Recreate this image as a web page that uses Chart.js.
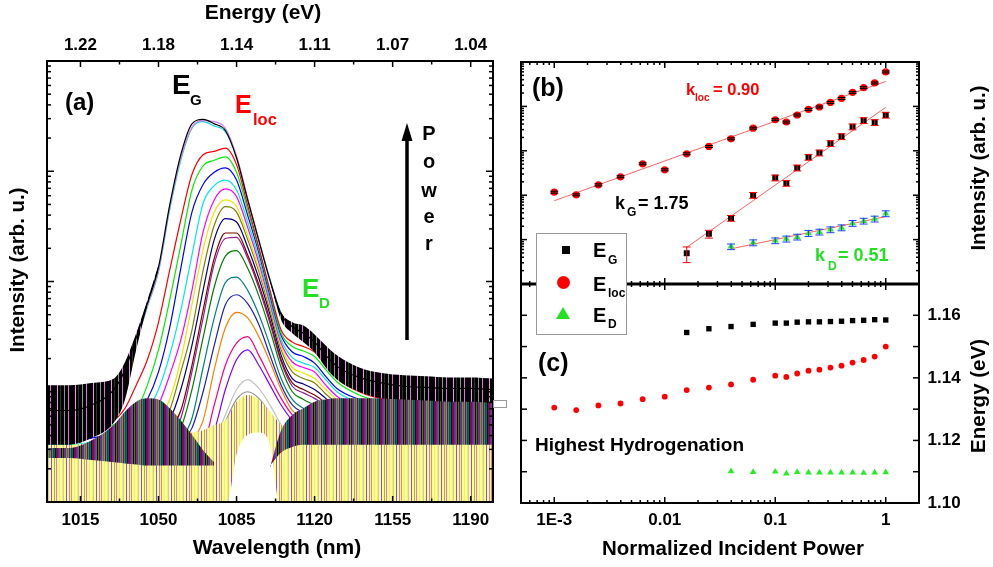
<!DOCTYPE html>
<html>
<head>
<meta charset="utf-8">
<script src="https://cdn.jsdelivr.net/npm/chart.js@4.4.1/dist/chart.umd.min.js"></script>
<style>
  body { margin: 0; background: #fff; }
  #wrap { position: relative; width: 993px; height: 567px; overflow: hidden; background: #fff;
          font-family: 'Liberation Sans', Arial, sans-serif; font-weight: bold; }
  canvas { position: absolute; left: 0; top: 0; }
  .t { position: absolute; line-height: 1; white-space: nowrap; }
  .box { position: absolute; box-sizing: border-box; }
</style>
</head>
<body>
<div id="wrap">
  <canvas id="chartA" width="993" height="567"></canvas>
  <canvas id="chartB" width="993" height="567"></canvas>
  <canvas id="chartC" width="993" height="567"></canvas>
  <svg style="position:absolute;left:0;top:0" width="993" height="567">
    <line x1="407" y1="340" x2="407" y2="138" stroke="#000" stroke-width="3.5"/>
    <polygon points="407,123 401.5,141 412.5,141" fill="#000"/>
  </svg>
</div>
<script>
// ---- panel (a): PL spectra, wavelength grid in nm, values are log10(intensity) ----
const wavelengths = [1000,1010,1020,1030,1035,1040,1045,1050,1055,1060,1065,1070,1075,1080,1085,1090,1095,1100,1105,1110,1115,1120,1125,1130,1140,1150,1160,1170,1180,1190,1200];
const wlLabelTicks = [1015,1050,1085,1120,1155,1190];

const specBlack    = [0.83,0.83,0.88,1.02,1.20,1.49,1.80,2.13,2.69,3.15,3.43,3.47,3.43,3.37,3.12,2.74,2.37,2.01,1.70,1.59,1.53,1.45,1.33,1.23,1.13,1.08,1.05,1.04,1.03,1.03,1.02];
const specViolet0  = [0.82,0.82,0.86,1.00,1.18,1.47,1.78,2.10,2.67,3.12,3.40,3.46,3.45,3.39,3.14,2.75,2.37,2.01,1.70,1.58,1.52,1.44,1.32,1.22,1.12,1.07,1.04,1.03,1.02,1.02,1.02];
const specCyan0    = [0.79,0.79,0.83,0.97,1.15,1.45,1.77,2.09,2.65,3.10,3.39,3.45,3.41,3.36,3.13,2.75,2.38,2.02,1.71,1.58,1.51,1.43,1.32,1.22,1.11,1.06,1.03,1.02,1.02,1.02,1.01];
const specRed      = [0.65,0.65,0.67,0.74,0.85,1.06,1.29,1.63,2.10,2.56,2.97,3.15,3.18,3.21,3.06,2.69,2.31,1.92,1.56,1.45,1.41,1.36,1.24,1.12,1.00,0.94,0.93,0.91,0.91,0.91,0.90];
const specGreen    = [0.61,0.61,0.63,0.70,0.76,0.83,1.06,1.38,1.83,2.33,2.83,3.05,3.10,3.13,2.99,2.65,2.29,1.90,1.53,1.41,1.37,1.32,1.20,1.09,0.97,0.91,0.88,0.87,0.87,0.87,0.86];
const specBlue     = [0.56,0.56,0.58,0.63,0.70,0.79,0.93,1.18,1.58,2.12,2.63,2.88,2.99,3.03,2.92,2.60,2.26,1.87,1.51,1.36,1.32,1.26,1.14,1.03,0.93,0.87,0.84,0.83,0.83,0.83,0.83];
const specCyan     = [0.52,0.52,0.54,0.59,0.63,0.70,0.83,1.02,1.33,1.74,2.24,2.71,2.87,2.92,2.83,2.54,2.21,1.83,1.47,1.31,1.26,1.22,1.11,1.00,0.90,0.83,0.82,0.81,0.81,0.81,0.80];
const specMagenta  = [0.49,0.49,0.51,0.54,0.58,0.63,0.73,0.88,1.15,1.47,1.92,2.45,2.74,2.84,2.77,2.49,2.17,1.80,1.44,1.27,1.22,1.18,1.06,0.96,0.86,0.81,0.79,0.78,0.78,0.78,0.77];
const specYellow   = [0.45,0.45,0.47,0.50,0.53,0.56,0.63,0.74,0.93,1.29,1.79,2.29,2.63,2.74,2.68,2.42,2.12,1.77,1.41,1.22,1.17,1.12,1.02,0.93,0.83,0.78,0.76,0.75,0.75,0.75,0.74];
const specOlive    = [0.43,0.43,0.44,0.47,0.50,0.54,0.59,0.67,0.83,1.18,1.56,2.10,2.51,2.68,2.63,2.38,2.09,1.74,1.38,1.18,1.12,1.08,0.98,0.90,0.81,0.76,0.74,0.73,0.73,0.73,0.73];
const specNavy     = [0.40,0.40,0.42,0.44,0.47,0.50,0.54,0.61,0.74,1.02,1.42,1.92,2.38,2.57,2.54,2.31,2.03,1.70,1.33,1.12,1.07,1.02,0.94,0.86,0.78,0.73,0.72,0.71,0.71,0.71,0.70];
const specWine     = [0.38,0.38,0.40,0.42,0.44,0.47,0.51,0.56,0.65,0.83,1.24,1.74,2.21,2.44,2.44,2.24,1.97,1.65,1.29,1.08,1.02,0.97,0.90,0.83,0.75,0.71,0.69,0.68,0.68,0.68,0.67];
const specPurple   = [0.36,0.36,0.38,0.40,0.42,0.44,0.48,0.53,0.60,0.76,1.18,1.67,2.16,2.39,2.40,2.21,1.94,1.62,1.27,1.05,0.99,0.94,0.87,0.80,0.73,0.69,0.67,0.66,0.66,0.66,0.65];
const specDkGreen  = [0.34,0.34,0.35,0.37,0.39,0.41,0.44,0.47,0.54,0.67,1.02,1.49,1.95,2.23,2.28,2.12,1.87,1.56,1.22,1.00,0.93,0.88,0.83,0.77,0.71,0.67,0.65,0.64,0.64,0.64,0.63];
const specTeal     = [0.31,0.31,0.33,0.34,0.36,0.38,0.40,0.43,0.47,0.56,0.76,1.22,1.67,1.99,2.04,1.92,1.70,1.42,1.12,0.93,0.85,0.82,0.77,0.73,0.67,0.63,0.62,0.61,0.61,0.61,0.60];
const specRoyal    = [0.29,0.29,0.31,0.33,0.34,0.35,0.37,0.40,0.44,0.54,0.67,1.00,1.42,1.79,1.88,1.80,1.61,1.33,1.06,0.88,0.81,0.77,0.73,0.69,0.64,0.61,0.59,0.58,0.58,0.58,0.57];
const specOrange   = [0.27,0.27,0.29,0.31,0.32,0.33,0.34,0.36,0.40,0.47,0.56,0.74,1.20,1.58,1.72,1.67,1.50,1.27,1.02,0.83,0.76,0.73,0.68,0.65,0.62,0.59,0.57,0.56,0.56,0.56,0.55];
const specPink     = [0.25,0.25,0.27,0.29,0.30,0.31,0.33,0.34,0.38,0.45,0.54,0.54,0.88,1.24,1.44,1.50,1.33,1.13,0.94,0.79,0.70,0.65,0.62,0.59,0.56,0.54,0.53,0.52,0.52,0.52,0.51];
const specViolet   = [0.22,0.22,0.24,0.25,0.26,0.27,0.29,0.31,0.34,0.40,0.45,0.49,0.65,1.02,1.29,1.38,1.24,1.06,0.88,0.74,0.65,0.62,0.58,0.56,0.54,0.52,0.50,0.49,0.49,0.49,0.48];
const specLtGray   = [0.15,0.15,0.17,0.19,0.20,0.21,0.23,0.24,0.27,0.31,0.36,0.43,0.56,0.79,1.02,1.11,1.03,0.88,0.70,0.56,0.49,0.45,0.43,0.40,0.38,0.36,0.35,0.34,0.34,0.34,0.34];
const specGray     = [0.13,0.13,0.15,0.16,0.17,0.18,0.20,0.22,0.24,0.28,0.33,0.39,0.51,0.73,0.93,1.00,0.94,0.80,0.63,0.50,0.43,0.40,0.37,0.35,0.34,0.32,0.31,0.30,0.30,0.30,0.29];
const specLtYellow = [0.11,0.11,0.13,0.15,0.15,0.16,0.18,0.20,0.23,0.26,0.31,0.36,0.47,0.70,0.88,0.94,0.88,0.74,0.58,0.45,0.38,0.34,0.32,0.29,0.27,0.25,0.24,0.24,0.24,0.24,0.23];

// noise envelopes (log10), null where the spectra are clean
const noiseBlackHi  = [1.06,1.06,1.08,1.12,1.27,1.53,1.83,2.15,null,null,null,null,null,null,null,null,null,2.01,1.72,1.63,1.60,1.52,1.42,1.33,1.22,1.17,1.15,1.14,1.13,1.13,1.12];
const noiseBlackLo  = [0.52,0.52,0.58,0.72,0.93,1.38,1.78,2.11,null,null,null,null,null,null,null,null,null,2.00,1.65,1.53,1.45,1.36,1.22,1.11,1.00,0.94,0.93,0.92,0.91,0.91,0.90];
const noiseMixHi    = [0.49,0.49,0.56,0.70,0.82,0.91,0.94,0.93,0.85,0.74,0.61,0.47,0.36,null,null,null,null,0.31,0.65,0.79,0.85,0.91,0.93,0.94,0.94,0.94,0.94,0.94,0.94,0.94,0.94];
const noiseMixLo    = [0.40,0.40,0.38,0.36,0.35,0.34,0.33,0.33,0.33,0.33,0.33,0.33,0.33,null,null,null,null,0.33,0.45,0.50,0.52,0.52,0.52,0.52,0.52,0.52,0.52,0.52,0.52,0.52,0.52];
const noiseYellowHi = [0.52,0.52,0.54,0.56,0.58,0.60,0.61,0.62,0.63,0.63,0.63,0.65,0.70,0.74,0.91,0.97,0.93,0.82,0.70,0.63,0.62,0.61,0.60,0.59,0.59,0.59,0.59,0.59,0.59,0.59,0.59];
const noiseYellowLo = [-0.1,-0.1,-0.1,-0.1,-0.1,-0.1,-0.1,-0.1,-0.1,-0.1,-0.1,-0.1,-0.1,-0.1,0.43,0.61,0.63,0.52,-0.1,-0.1,-0.1,-0.1,-0.1,-0.1,-0.1,-0.1,-0.1,-0.1,-0.1,-0.1,-0.1];

// ---- panels (b) and (c): normalized incident power ----
const powerLoc = [0.001,0.00158,0.00251,0.00398,0.00631,0.01,0.0158,0.0251,0.0398,0.0631,0.1,0.126,0.158,0.2,0.251,0.316,0.398,0.501,0.631,0.794,1];
const powerG   = [0.0158,0.0251,0.0398,0.0631,0.1,0.126,0.158,0.2,0.251,0.316,0.398,0.501,0.631,0.794,1];
const powerD   = [0.0398,0.0631,0.1,0.126,0.158,0.2,0.251,0.316,0.398,0.501,0.631,0.794,1];
const powerTicks = [0.001, 0.01, 0.1, 1];
const powerTickLabels = ['1E-3', '0.01', '0.1', '1'];

const intLoc = [117,102,171,260,510,373,857,1253,1862,3240,5010,4450,6400,8570,9690,12300,15100,20700,26400,33700,59700];
const errLoc = [6,5,9,13,25,19,43,63,93,160,250,220,320,430,480,620,760,1030,1320,1680,3000];
const intG   = [4.93,13.5,30.4,100,247,187,414,721,903,1466,2108,3485,4830,4365,6400];
const errG   = [1.9,2.7,4.5,15,37,28,62,108,135,220,316,520,720,650,960];
const intD   = [6.95,8.55,9.49,10.4,11.5,13.9,14.9,16.8,18.6,23.4,26.3,29.3,38.6];
const errD   = [1.0,1.3,1.4,1.6,1.7,2.1,2.2,2.5,2.8,3.5,3.9,4.4,5.8];

// power-law fits (end points)
const fitLocP = [0.001, 1],   fitLocI = [75, 36600];
const fitGP   = [0.0158, 1],  fitGI   = [6.7, 9500];
const fitDP   = [0.0398, 1],  fitDI   = [6.2, 33];

// peak energies (eV)
const peakLoc = [1.1305,1.1297,1.1312,1.1318,1.1332,1.1340,1.1361,1.1369,1.1379,1.1394,1.1407,1.1403,1.1414,1.1423,1.1426,1.1433,1.1439,1.1449,1.1457,1.1468,1.1500];
const peakG   = [1.1545,1.1557,1.1564,1.1571,1.1575,1.1575,1.1578,1.1579,1.1579,1.1580,1.1581,1.1583,1.1584,1.1586,1.1585];
const peakD   = [1.1101,1.1099,1.1100,1.1094,1.1099,1.1097,1.1097,1.1097,1.1097,1.1097,1.1096,1.1097,1.1098];
const energyTicks = [1.10, 1.12, 1.14, 1.16];

// ---------------------------------------------------------------
const FONT = "'Liberation Sans', Arial, sans-serif";
const tickFont = { family: FONT, size: 17, weight: 'bold' };

function stripes(colors) {
  const c = document.createElement('canvas');
  c.width = colors.length; c.height = 1;
  const g = c.getContext('2d');
  colors.forEach((col, i) => { g.fillStyle = col; g.fillRect(i, 0, 1, 1); });
  return g.createPattern(c, 'repeat');
}

function logTickSet(lo, hi) {
  const major = [], minor = [];
  for (let e = Math.floor(Math.log10(lo)); e <= Math.ceil(Math.log10(hi)); e++) {
    for (let m = 1; m <= 9; m++) {
      const v = Number((m * Math.pow(10, e)).toPrecision(3));
      if (v <= lo * 1.0001 || v >= hi * 0.9999) continue;
      (m === 1 ? major : minor).push(v);
    }
  }
  return { major, minor };
}

// inward tick marks + frame
const frameTicks = {
  id: 'frameTicks',
  afterDatasetsDraw(chart, args, o) {
    const ctx = chart.ctx, a = chart.chartArea;
    ctx.save();
    ctx.strokeStyle = '#000';
    ctx.lineWidth = 1.5;
    o.marks.forEach(m => {
      const s = chart.scales[m.scale];
      m.values.forEach(v => {
        const p = s.getPixelForValue(v);
        ctx.beginPath();
        if (m.side === 'bottom') { ctx.moveTo(p, a.bottom); ctx.lineTo(p, a.bottom - m.len); }
        if (m.side === 'top')    { ctx.moveTo(p, a.top);    ctx.lineTo(p, a.top + m.len); }
        if (m.side === 'left')   { ctx.moveTo(a.left, p);   ctx.lineTo(a.left + m.len, p); }
        if (m.side === 'right')  { ctx.moveTo(a.right, p);  ctx.lineTo(a.right - m.len, p); }
        ctx.stroke();
      });
    });
    ctx.lineWidth = o.frame;
    ctx.strokeRect(a.left, a.top, a.right - a.left, a.bottom - a.top);
    if (o.topLine) {
      ctx.lineWidth = o.topLine;
      ctx.beginPath(); ctx.moveTo(a.left, a.top); ctx.lineTo(a.right, a.top); ctx.stroke();
    }
    ctx.restore();
  }
};

function marksFor(scale, side, set, lenMajor, lenMinor) {
  return [
    { scale, side, values: set.major, len: lenMajor },
    { scale, side, values: set.minor, len: lenMinor }
  ];
}

// ---------------- panel (a) ----------------
const toPts = arr => arr.map((v, i) => ({ x: wavelengths[i], y: v === null ? null : Math.pow(10, v) }));
function lineDs(arr, color) {
  return { data: toPts(arr), borderColor: color, borderWidth: 1.2, pointRadius: 0, fill: false,
           cubicInterpolationMode: 'monotone' };
}
function bandDs(hi, lo, pattern) {
  return [
    { data: toPts(hi), borderColor: 'rgba(0,0,0,0)', borderWidth: 0, pointRadius: 0,
      fill: '+1', backgroundColor: pattern, cubicInterpolationMode: 'monotone' },
    { data: toPts(lo), borderColor: 'rgba(0,0,0,0)', borderWidth: 0, pointRadius: 0,
      fill: false, cubicInterpolationMode: 'monotone' }
  ];
}

const blackNoise = stripes(['#000','#000','#000','#f090f0','#000','#000','#303030','#000','#000','#000','#909090','#000','#000','#000','#e070e0','#000','#000','#000']);
const mixNoise = stripes(['#008000','#0000a0','#b00000','#800080','#006868','#d000d0','#707000','#000080','#00a000','#700000','#e00070','#2040e0','#909000','#008888','#e07000','#6000c0','#00a0a0','#005000']);
const yellowNoise = stripes(['#ffff80','#ffff80','#f0f070','#c8c8c8','#ffff80','#ffff80','#9a40ff','#ffff80','#ffff80','#a0a0a0','#ffff80','#ff70b0','#ffff80','#ffff80','#e8e8a0']);

const datasetsA = [
  lineDs(specBlack, '#000000'),
  ...bandDs(noiseBlackHi, noiseBlackLo, blackNoise),
  lineDs(specViolet0, '#e07ef0'),
  lineDs(specCyan0, '#00d8d8'),
  ...bandDs(noiseMixHi, noiseMixLo, mixNoise),
  ...bandDs(noiseYellowHi, noiseYellowLo, yellowNoise),
  lineDs(specRed, '#ff0000'),
  lineDs(specGreen, '#00ee00'),
  lineDs(specBlue, '#0000ff'),
  lineDs(specCyan, '#00e8e8'),
  lineDs(specMagenta, '#ff00ff'),
  lineDs(specYellow, '#e8e800'),
  lineDs(specOlive, '#808000'),
  lineDs(specNavy, '#000080'),
  lineDs(specWine, '#800000'),
  lineDs(specPurple, '#902090'),
  lineDs(specDkGreen, '#008000'),
  lineDs(specTeal, '#008080'),
  lineDs(specRoyal, '#2020b0'),
  lineDs(specOrange, '#ff8000'),
  lineDs(specPink, '#ff0080'),
  lineDs(specViolet, '#8000ff'),
  lineDs(specLtGray, '#c0c0c0'),
  lineDs(specGray, '#909090'),
  lineDs(specLtYellow, '#ffff80')
];

const wlMinor = wlLabelTicks.map(v => v + 17.5).filter(v => v < 1200);
const logA = logTickSet(1, 1e4);

new Chart(document.getElementById('chartA'), {
  type: 'line',
  data: { datasets: datasetsA },
  options: {
    responsive: false, animation: false, events: [],
    layout: { padding: { left: 47, top: 0, right: 500, bottom: 0 } },
    plugins: {
      legend: { display: false }, tooltip: { enabled: false },
      frameTicks: {
        frame: 2,
        marks: [
          { scale: 'x', side: 'bottom', values: wlLabelTicks, len: 6 },
          { scale: 'x', side: 'bottom', values: wlMinor, len: 3.5 },
          { scale: 'x', side: 'top', values: wlLabelTicks, len: 6 },
          { scale: 'x', side: 'top', values: wlMinor, len: 3.5 },
          ...marksFor('y', 'left', logA, 7, 4),
          ...marksFor('y', 'right', logA, 7, 4)
        ]
      }
    },
    scales: {
      x: {
        type: 'linear', position: 'bottom', min: 1000, max: 1200,
        grid: { display: false, drawTicks: false }, border: { display: false },
        afterBuildTicks: s => { s.ticks = wlLabelTicks.map(v => ({ value: v })); },
        afterFit: s => { s.height = 65; },
        ticks: { font: tickFont, color: '#000', padding: 8, maxRotation: 0, autoSkip: false,
                 callback: v => String(v) }
      },
      xTop: {
        type: 'linear', axis: 'x', position: 'top', min: 1000, max: 1200,
        grid: { display: false, drawTicks: false }, border: { display: false },
        afterBuildTicks: s => { s.ticks = wlLabelTicks.map(v => ({ value: v })); },
        afterFit: s => { s.height = 61; },
        ticks: { font: tickFont, color: '#000', padding: 5.5, maxRotation: 0, autoSkip: false,
                 callback: v => (1240 / v).toFixed(2) }
      },
      y: {
        type: 'logarithmic', min: 1, max: 1e4,
        grid: { display: false, drawTicks: false }, border: { display: false },
        ticks: { display: false },
        afterFit: s => { s.width = 0; }
      }
    }
  },
  plugins: [frameTicks]
});

// ---------------- panel (b) ----------------
const errorBars = {
  id: 'errorBars',
  afterDatasetsDraw(chart, args, o) {
    const ctx = chart.ctx, xs = chart.scales.x, ys = chart.scales.y;
    ctx.save();
    o.sets.forEach(set => {
      ctx.strokeStyle = set.color;
      ctx.lineWidth = 1;
      set.x.forEach((xv, i) => {
        const px = xs.getPixelForValue(xv);
        const top = ys.getPixelForValue(set.y[i] + set.err[i]);
        const bot = ys.getPixelForValue(set.y[i] - set.err[i]);
        ctx.beginPath();
        ctx.moveTo(px, top); ctx.lineTo(px, bot);
        ctx.moveTo(px - 4, top); ctx.lineTo(px + 4, top);
        ctx.moveTo(px - 4, bot); ctx.lineTo(px + 4, bot);
        ctx.stroke();
      });
    });
    ctx.restore();
  }
};

const pts = (xs, ys) => xs.map((x, i) => ({ x, y: ys[i] }));
const logP = logTickSet(5e-4, 2);
const logB = logTickSet(1, 1e5);

new Chart(document.getElementById('chartB'), {
  type: 'line',
  data: {
    datasets: [
      { data: pts(powerLoc, intLoc), showLine: false, pointStyle: 'circle', pointRadius: 3.6,
        pointBackgroundColor: '#ff0000', pointBorderWidth: 0 },
      { data: pts(powerG, intG), showLine: false, pointStyle: 'rect', pointRadius: 4.2,
        pointBackgroundColor: '#000', pointBorderWidth: 0 },
      { data: pts(powerD, intD), showLine: false, pointStyle: 'triangle', pointRadius: 4,
        pointBackgroundColor: '#22ee22', pointBorderWidth: 0 },
      { data: pts(fitLocP, fitLocI), borderColor: '#ff6262', borderWidth: 1, pointRadius: 0 },
      { data: pts(fitGP, fitGI), borderColor: '#ff6262', borderWidth: 1, pointRadius: 0 },
      { data: pts(fitDP, fitDI), borderColor: '#ff6262', borderWidth: 1, pointRadius: 0 }
    ]
  },
  options: {
    responsive: false, animation: false, events: [],
    layout: { padding: { left: 521, top: 62, right: 74, bottom: 283 } },
    plugins: {
      legend: { display: false }, tooltip: { enabled: false },
      errorBars: {
        sets: [
          { x: powerLoc, y: intLoc, err: errLoc, color: '#000' },
          { x: powerG, y: intG, err: errG, color: '#ff0000' },
          { x: powerD, y: intD, err: errD, color: '#2040ff' }
        ]
      },
      frameTicks: {
        frame: 2,
        marks: [
          ...marksFor('x', 'top', logP, 6, 3),
          ...marksFor('x', 'bottom', logP, 6, 3),
          ...marksFor('y', 'left', logB, 6, 3),
          ...marksFor('y', 'right', logB, 6, 3)
        ]
      }
    },
    scales: {
      x: {
        type: 'logarithmic', min: 5e-4, max: 2,
        grid: { display: false, drawTicks: false }, border: { display: false },
        ticks: { display: false }, afterFit: s => { s.height = 0; }
      },
      y: {
        type: 'logarithmic', min: 1, max: 1e5,
        grid: { display: false, drawTicks: false }, border: { display: false },
        ticks: { display: false }, afterFit: s => { s.width = 0; }
      }
    }
  },
  plugins: [errorBars, frameTicks]
});

// ---------------- panel (c) ----------------
const energyMarks = [1.11, 1.12, 1.13, 1.14, 1.15, 1.16];

new Chart(document.getElementById('chartC'), {
  type: 'line',
  data: {
    datasets: [
      { data: pts(powerG, peakG), showLine: false, pointStyle: 'rect', pointRadius: 3.8,
        pointBackgroundColor: '#000', pointBorderWidth: 0 },
      { data: pts(powerLoc, peakLoc), showLine: false, pointStyle: 'circle', pointRadius: 2.9,
        pointBackgroundColor: '#ff0000', pointBorderWidth: 0 },
      { data: pts(powerD, peakD), showLine: false, pointStyle: 'triangle', pointRadius: 3.8,
        pointBackgroundColor: '#22ee22', pointBorderWidth: 0 }
    ]
  },
  options: {
    responsive: false, animation: false, events: [],
    layout: { padding: { left: 521, top: 284, right: 0, bottom: 0 } },
    plugins: {
      legend: { display: false }, tooltip: { enabled: false },
      frameTicks: {
        frame: 2, topLine: 3,
        marks: [
          ...marksFor('x', 'top', logP, 6, 3),
          ...marksFor('x', 'bottom', logP, 6, 3),
          { scale: 'y', side: 'left', values: energyMarks, len: 6 },
          { scale: 'y', side: 'right', values: energyMarks, len: 6 }
        ]
      }
    },
    scales: {
      x: {
        type: 'logarithmic', min: 5e-4, max: 2,
        grid: { display: false, drawTicks: false }, border: { display: false },
        afterBuildTicks: s => { s.ticks = powerTicks.map(v => ({ value: v })); },
        afterFit: s => { s.height = 64; },
        ticks: { font: tickFont, color: '#000', padding: 7, maxRotation: 0, autoSkip: false,
                 callback: v => powerTickLabels[powerTicks.indexOf(v)] }
      },
      y: {
        type: 'linear', position: 'right', min: 1.10, max: 1.17,
        grid: { display: false, drawTicks: false }, border: { display: false },
        afterBuildTicks: s => { s.ticks = energyTicks.map(v => ({ value: v })); },
        afterFit: s => { s.width = 74; },
        ticks: { font: tickFont, color: '#000', padding: 8.5, autoSkip: false,
                 callback: v => v.toFixed(2) }
      }
    }
  },
  plugins: [frameTicks]
});

// ---------------- text annotations ----------------
const wrap = document.getElementById('wrap');
function note(text, x, base, size, color, center) {
  const d = document.createElement('div');
  d.className = 't';
  d.textContent = text;
  d.style.fontSize = size + 'px';
  d.style.top = (base - 0.8465 * size) + 'px';
  d.style.color = color || '#000';
  if (center) { d.style.left = (x - 200) + 'px'; d.style.width = '400px'; d.style.textAlign = 'center'; }
  else d.style.left = x + 'px';
  wrap.appendChild(d);
}
function vnote(text, cx, cy, size) {
  const d = document.createElement('div');
  d.className = 't';
  d.textContent = text;
  d.style.fontSize = size + 'px';
  d.style.left = cx + 'px';
  d.style.top = cy + 'px';
  d.style.transform = 'translate(-50%,-50%) rotate(-90deg)';
  wrap.appendChild(d);
}
function box(x, y, w, h, css) {
  const d = document.createElement('div');
  d.className = 'box';
  d.style.left = x + 'px'; d.style.top = y + 'px';
  d.style.width = w + 'px'; d.style.height = h + 'px';
  Object.assign(d.style, css);
  wrap.appendChild(d);
}

const RED = '#ff0000', GREEN = '#22e022';

// axis titles
note('Energy (eV)', 263, 19, 21, '#000', true);
note('Wavelength (nm)', 277, 554, 21, '#000', true);
note('Normalized Incident Power', 733, 555, 20.5, '#000', true);
vnote('Intensity (arb. u.)', 17, 270, 20.5);
vnote('Intensity (arb. u.)', 978, 168, 20.5);
vnote('Energy (eV)', 978, 396, 20.5);

// panel (a)
note('(a)', 65, 110, 24);
note('E', 172, 95, 28); note('G', 190, 105, 15);
note('E', 235, 113, 25, RED); note('loc', 253, 125, 16.5, RED);
note('E', 302, 297, 26, GREEN); note('D', 319, 308, 15, GREEN);
['P', 'o', 'w', 'e', 'r'].forEach((ch, i) => note(ch, 429, [140, 168, 197, 223, 250][i], 20, '#000', true));
box(493, 400, 14, 8, { border: '1px solid #999', background: '#fff' });

// panel (b)
note('(b)', 532, 96.5, 25);
note('k', 686, 95, 16.5, RED); note('loc', 695, 101.5, 10, RED); note('= 0.90', 713, 95, 16.5, RED);
note('k', 615, 209, 18); note('G', 627, 216.5, 12); note('= 1.75', 638, 209, 18);
note('k', 815, 261.5, 18, GREEN); note('D', 828, 270, 12, GREEN); note('= 0.51', 838, 261.5, 18, GREEN);

// panel (c)
note('(c)', 538, 371.5, 25);
note('Highest Hydrogenation', 535, 450.7, 19);

// legend
box(536, 233, 91, 102, { border: '1px solid #999', background: '#fff' });
box(562, 246, 8, 8, { background: '#000' });
box(556.5, 275.5, 13, 13, { background: RED, borderRadius: '50%' });
box(556, 307, 0, 0, { borderLeft: '7px solid transparent', borderRight: '7px solid transparent', borderBottom: '12px solid ' + GREEN });
note('E', 593, 257, 20); note('G', 608, 264, 12);
note('E', 593, 291, 20); note('loc', 608, 297, 12);
note('E', 593, 322, 20); note('D', 608, 328.5, 12);
</script>
</body>
</html>
